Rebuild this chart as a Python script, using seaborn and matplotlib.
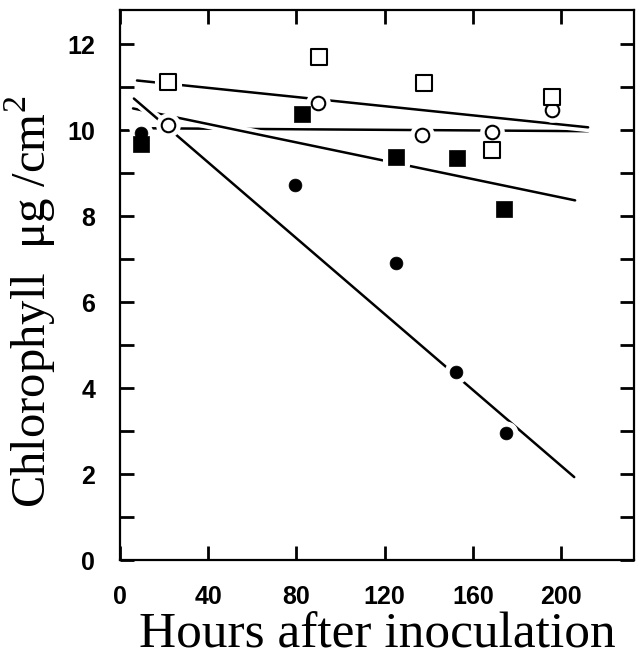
import seaborn as sns
import matplotlib.pyplot as plt
import matplotlib.patheffects as pe

# chlorophyll (ug/cm2) against hours after inoculation
open_square_hours = [21.7, 90.2, 137.7, 168.6, 195.8]
open_square_chl = [11.12, 11.70, 11.09, 9.55, 10.77]
open_circle_hours = [21.6, 89.9, 137.0, 168.6, 195.8]
open_circle_chl = [10.12, 10.64, 9.88, 9.96, 10.47]
filled_square_hours = [9.5, 82.4, 125.3, 152.8, 173.9]
filled_square_chl = [9.69, 10.39, 9.38, 9.36, 8.18]
filled_circle_hours = [9.5, 79.2, 124.9, 152.5, 175.1]
filled_circle_chl = [9.93, 8.72, 6.91, 4.37, 2.95]

# end points of the fitted lines
open_square_fit_hours = [7.7, 212.2]
open_square_fit_chl = [11.16, 10.07]
open_circle_fit_hours = [6.3, 212.2]
open_circle_fit_chl = [10.05, 9.98]
filled_square_fit_hours = [5.9, 206.3]
filled_square_fit_chl = [10.51, 8.37]
filled_circle_fit_hours = [6.3, 205.9]
filled_circle_fit_chl = [10.74, 1.93]

x_ticks = [0, 40, 80, 120, 160, 200]
x_tick_labels = ["0", "40", "80", "120", "160", "200"]
y_ticks = [0, 2, 4, 6, 8, 10, 12]
y_tick_labels = ["0", "2", "4", "6", "8", "10", "12"]
y_minor_ticks = [1, 3, 5, 7, 9, 11]


def draw_fit(ax, hours, chl):
    sns.lineplot(x=hours, y=chl, ax=ax, color="black", linewidth=1.8)
    ax.lines[-1].set_path_effects(
        [pe.withStroke(linewidth=7, foreground="white")])


def draw_points(ax, hours, chl, marker, size, filled, halo):
    if halo:
        sns.scatterplot(x=hours, y=chl, ax=ax, marker=marker, s=size,
                        color="white", edgecolor="white", linewidth=8,
                        zorder=3)
    elif filled:
        sns.scatterplot(x=hours, y=chl, ax=ax, marker=marker, s=size,
                        color="black", edgecolor="black", linewidth=0.5,
                        zorder=4)
    else:
        sns.scatterplot(x=hours, y=chl, ax=ax, marker=marker, s=size,
                        color="white", edgecolor="black", linewidth=1.5,
                        zorder=4)


def main():
    sns.set_theme(style="ticks")
    plt.rcParams["font.family"] = ["Liberation Serif", "DejaVu Serif"]
    plt.rcParams["mathtext.fontset"] = "custom"
    plt.rcParams["mathtext.rm"] = "Liberation Serif"

    fig = plt.figure(figsize=(6.39, 6.59), dpi=100)
    ax = fig.add_axes([0.1878, 0.1502, 0.8044, 0.8346])

    draw_fit(ax, open_circle_fit_hours, open_circle_fit_chl)
    draw_fit(ax, filled_square_fit_hours, filled_square_fit_chl)
    draw_fit(ax, open_square_fit_hours, open_square_fit_chl)
    draw_fit(ax, filled_circle_fit_hours, filled_circle_fit_chl)

    series = [
        (filled_circle_hours, filled_circle_chl, "o", 85, True),
        (filled_square_hours, filled_square_chl, "s", 140, True),
        (open_circle_hours, open_circle_chl, "o", 95, False),
        (open_square_hours, open_square_chl, "s", 125, False),
    ]
    for hours, chl, marker, size, filled in series:
        draw_points(ax, hours, chl, marker, size, filled, halo=True)
    for hours, chl, marker, size, filled in series:
        draw_points(ax, hours, chl, marker, size, filled, halo=False)

    ax.set_xlim(0, 233)
    ax.set_ylim(0, 12.8)
    ax.set_xticks(x_ticks)
    ax.set_xticklabels(x_tick_labels)
    ax.set_yticks(y_ticks)
    ax.set_yticklabels(y_tick_labels)
    ax.set_yticks(y_minor_ticks, minor=True)
    ax.tick_params(axis="both", which="both", direction="in", length=10,
                   width=2.0, pad=18, top=True, right=True, color="black",
                   labelcolor="black")
    for lbl in ax.get_xticklabels() + ax.get_yticklabels():
        lbl.set_family("Liberation Sans")
        lbl.set_fontweight("bold")
        lbl.set_fontsize(18)
    for side in ax.spines.values():
        side.set_linewidth(1.6)
        side.set_color("black")

    ax.set_xlabel("Hours after inoculation", fontsize=37, color="black")
    ax.set_ylabel("Chlorophyll  μg /cm$^2$", fontsize=35, color="black")
    ax.xaxis.set_label_coords(0.5, -0.095)
    ax.yaxis.set_label_coords(-0.12, 0.47)

    fig.savefig("out.png", dpi=100)


if __name__ == "__main__":
    main()
